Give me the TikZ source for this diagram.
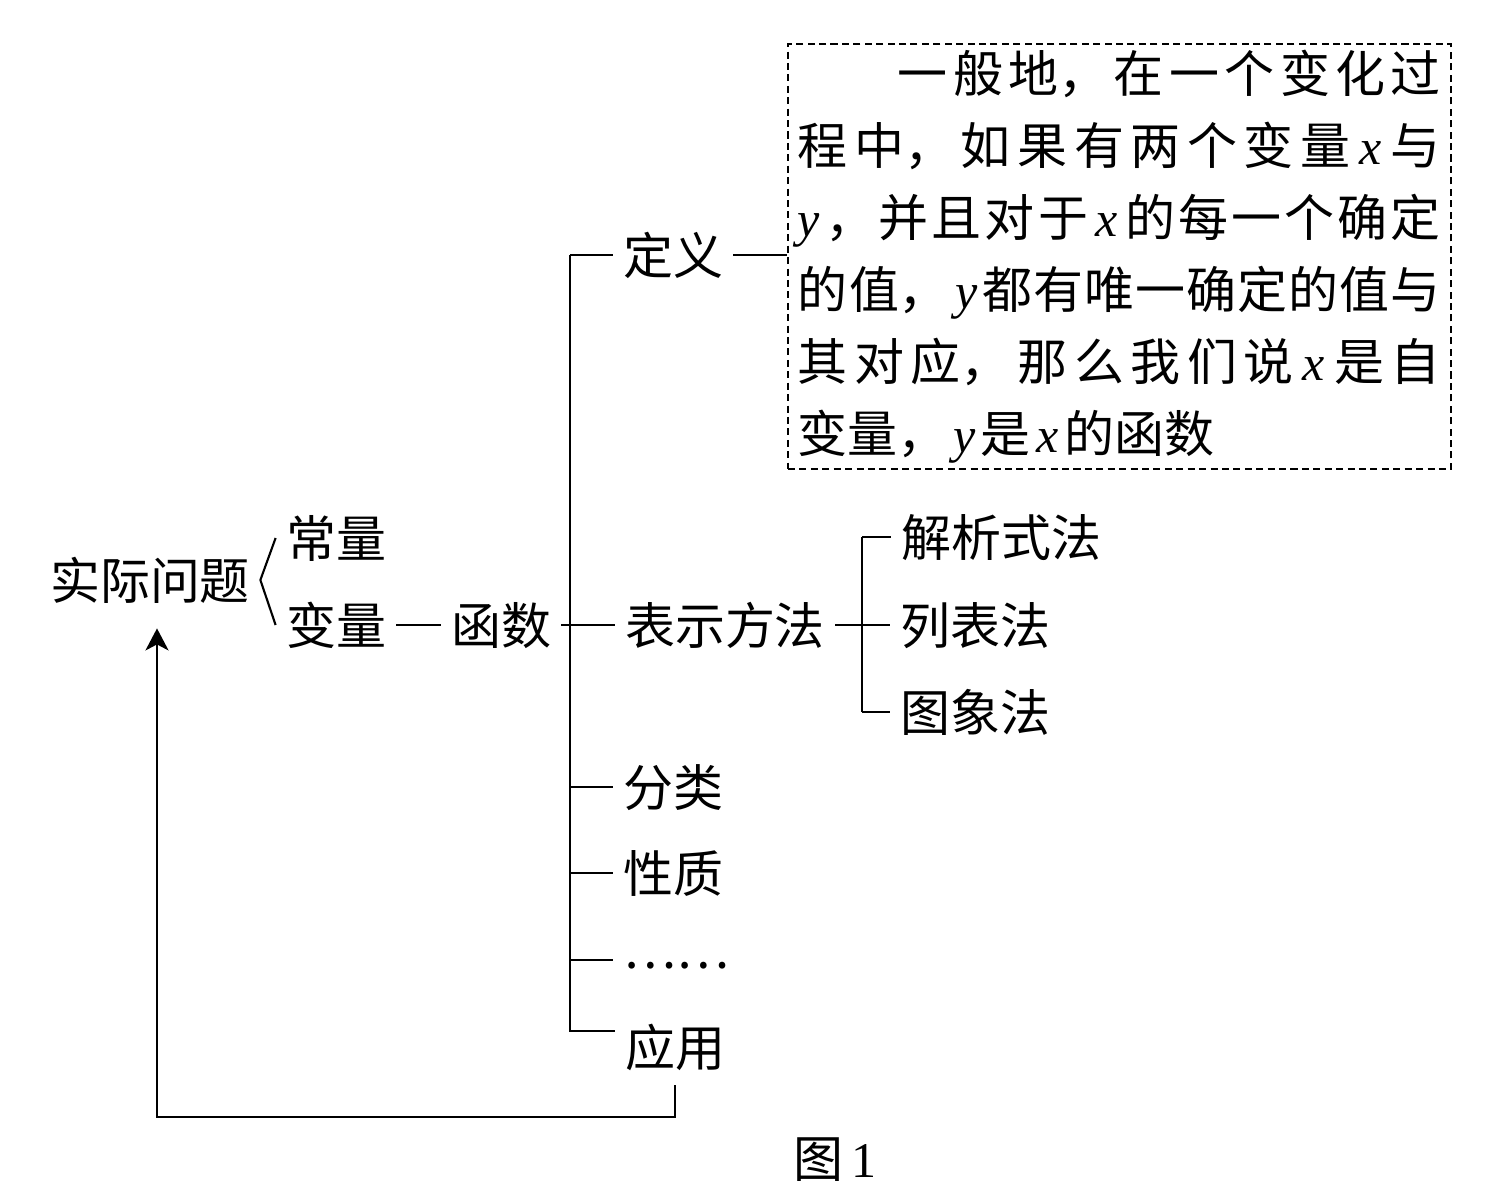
\documentclass[tikz,border=0pt]{standalone}
\usepackage{fontspec}
\setmainfont{Liberation Serif}
\newfontfamily\cjk{Noto Sans CJK SC}
\usetikzlibrary{arrows.meta}
\newcommand\vx{\hskip0.12em plus 6pt{\normalfont\itshape x}\hskip0.12em plus 6pt}
\newcommand\vy{\hskip0.12em plus 6pt{\normalfont\itshape y}\hskip0.08em plus 6pt}
\tikzset{
  lbl/.style={inner xsep=0.18cm, inner ysep=0pt, text height=0.84cm, text depth=0.08cm},
  ruck/.style={-{Stealth[length=0.44cm, width=0.46cm, inset=0.12cm]}},
}
\begin{document}
\begin{tikzpicture}[x=0.02cm, y=-0.02cm, font=\cjk\fontsize{28.45pt}{41pt}\selectfont, line width=1.6pt]
	\useasboundingbox (0,0) rectangle (1500,1197);
	% Ausgangspunkt
	\node[lbl] (wenti) at (150,580) {实际问题};
	\node[lbl] (changliang) at (336,538) {常量};
	\node[lbl] (bianliang) at (336,625) {变量};
	\node[lbl] (hanshu) at (501,625) {函数};
	\draw[line width=1.2pt] (changliang.west) -- (wenti.east) -- (bianliang.west);
	\draw (bianliang.east) -- (hanshu.west);
	
	% Zweige der Funktion
	\coordinate (trunk) at (570,0);
	\node[lbl] (dingyi) at (673,255) {定义};
	\node[lbl] (fangfa) at (725,625) {表示方法};
	\node[lbl] (fenlei) at (673,787) {分类};
	\node[lbl] (xingzhi) at (673,873) {性质};
	\node[lbl] (dots) at (676,960) {\raisebox{0.22cm}{……}};
	\node[lbl] (yingyong) at (675,1047) {应用};
	\coordinate (yyjoint) at ([yshift=0.32cm]yingyong.west);
	\draw (trunk |- dingyi.west) -- (trunk |- yyjoint) -- (yyjoint);
	\draw (hanshu.east) -- (fangfa.west);
	\foreach \n in {dingyi, fenlei, xingzhi, dots}
		\draw (trunk |- \n.west) -- (\n.west);
	
	% Definition im Kasten
	\node[draw, line width=1.1pt, dash pattern=on 4pt off 2.5pt, text width=12.86cm, inner xsep=0.2cm, inner ysep=0.12cm, anchor=north west, align=justify] (def) at (787,43) {\XeTeXlinebreaklocale "zh"\XeTeXlinebreakskip=0pt plus 12pt\tolerance=10000\hspace*{2em}一般地，在一个变化过\linebreak
	程中，如果有两个变量\vx 与\linebreak
	\vy ，并且对于\vx 的每一个确定\linebreak
	的值，\vy 都有唯一确定的值与\linebreak
	其对应，那么我们说\vx 是自\linebreak
	变量，\vy 是\vx 的函数};
	\draw (dingyi.east) -- (dingyi.east -| def.west);
	
	% Darstellungsarten
	\coordinate (sub) at (862,0);
	\node[lbl] (jiexi) at (1001,537) {解析式法};
	\node[lbl] (liebiao) at (975,625) {列表法};
	\node[lbl] (tuxiang) at (975,712) {图象法};
	\draw (fangfa.east) -- (liebiao.west);
	\draw (sub |- jiexi.west) -- (sub |- tuxiang.west);
	\foreach \n in {jiexi, tuxiang}
		\draw (sub |- \n.west) -- (\n.west);
	
	% Rueckfuehrung zum Problem
	\coordinate (back) at (157,1117);
	\draw[ruck, shorten <=0.28cm, shorten >=0.48cm] (yingyong.south) |- (back) -- (back |- wenti.south);
	
	\node[lbl] (tu) at (835,1158) {图\,{\normalfont 1}};
\end{tikzpicture}
\end{document}
